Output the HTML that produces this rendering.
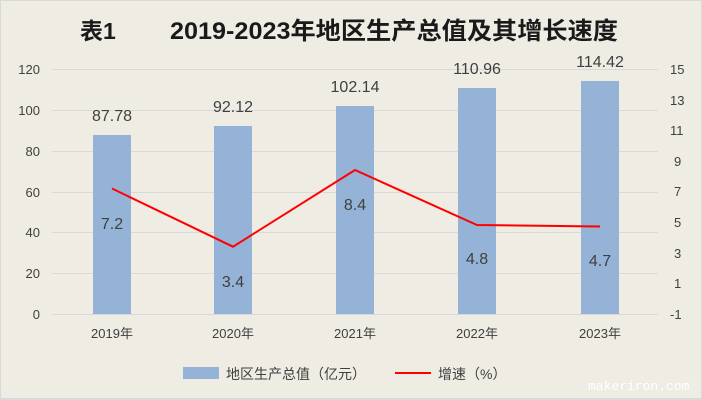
<!DOCTYPE html>
<html><head><meta charset="utf-8"><style>
body{margin:0;background:#fff}
svg{display:block}
text{font-family:"Liberation Sans","Noto Sans CJK SC",sans-serif;fill:#404040}
</style></head><body>
<svg width="702" height="400" viewBox="0 0 702 400">
<rect x="0" y="0" width="702" height="400" fill="#d9d9d9"/>
<rect x="1" y="1" width="700" height="397" fill="#eeece3"/>
<text x="80" y="39" font-size="23" font-weight="bold" style="fill:#1a1a1a">表1</text>
<text x="170" y="39" font-size="24" font-weight="bold" textLength="448" lengthAdjust="spacingAndGlyphs" style="fill:#1a1a1a">2019-2023年地区生产总值及其增长速度</text>
<g stroke="#d9d9d9" stroke-width="1">
<line x1="52" x2="658" y1="69.5" y2="69.5"/><line x1="52" x2="658" y1="110.5" y2="110.5"/>
<line x1="52" x2="658" y1="151.5" y2="151.5"/><line x1="52" x2="658" y1="192.5" y2="192.5"/>
<line x1="52" x2="658" y1="232.5" y2="232.5"/><line x1="52" x2="658" y1="273.5" y2="273.5"/>
<line x1="52" x2="658" y1="314.5" y2="314.5"/>
</g>
<g font-size="13" text-anchor="end">
<text x="40" y="74">120</text><text x="40" y="115">100</text><text x="40" y="156">80</text>
<text x="40" y="197">60</text><text x="40" y="237">40</text><text x="40" y="278">20</text><text x="40" y="319">0</text>
</g>
<g font-size="13" text-anchor="start">
<text x="670" y="74">15</text><text x="670" y="105">13</text><text x="670" y="135">11</text>
<text x="674" y="166">9</text><text x="674" y="196">7</text><text x="674" y="227">5</text>
<text x="674" y="258">3</text><text x="674" y="288">1</text><text x="670" y="319">-1</text>
</g>
<g fill="#95b3d7">
<rect x="93" y="135" width="38" height="179"/>
<rect x="214" y="126" width="38" height="188"/>
<rect x="336" y="106" width="38" height="208"/>
<rect x="458" y="88" width="38" height="226"/>
<rect x="581" y="81" width="38" height="233"/>
</g>
<polyline points="112,188.5 233,246.7 355,170 477,225 600,226.5" fill="none" stroke="#ff0000" stroke-width="2"/>
<g font-size="16" text-anchor="middle">
<text x="112" y="121">87.78</text><text x="233" y="112">92.12</text><text x="355" y="92">102.14</text>
<text x="477" y="74">110.96</text><text x="600" y="67">114.42</text>
<text x="112" y="229">7.2</text><text x="233" y="287">3.4</text><text x="355" y="210">8.4</text>
<text x="477" y="264">4.8</text><text x="600" y="266">4.7</text>
</g>
<g font-size="13" text-anchor="middle">
<text x="112" y="338">2019年</text><text x="233" y="338">2020年</text><text x="355" y="338">2021年</text>
<text x="477" y="338">2022年</text><text x="600" y="338">2023年</text>
</g>
<rect x="183" y="367" width="36" height="12" fill="#95b3d7"/>
<text x="226" y="379" font-size="14">地区生产总值（亿元）</text>
<line x1="395" x2="431" y1="373" y2="373" stroke="#ff0000" stroke-width="2"/>
<text x="438" y="379" font-size="14">增速（%）</text>
<text x="588" y="390" font-size="13" style="fill:#ffffff;font-family:'Liberation Mono',monospace">makeriron.com</text>
</svg>
</body></html>
